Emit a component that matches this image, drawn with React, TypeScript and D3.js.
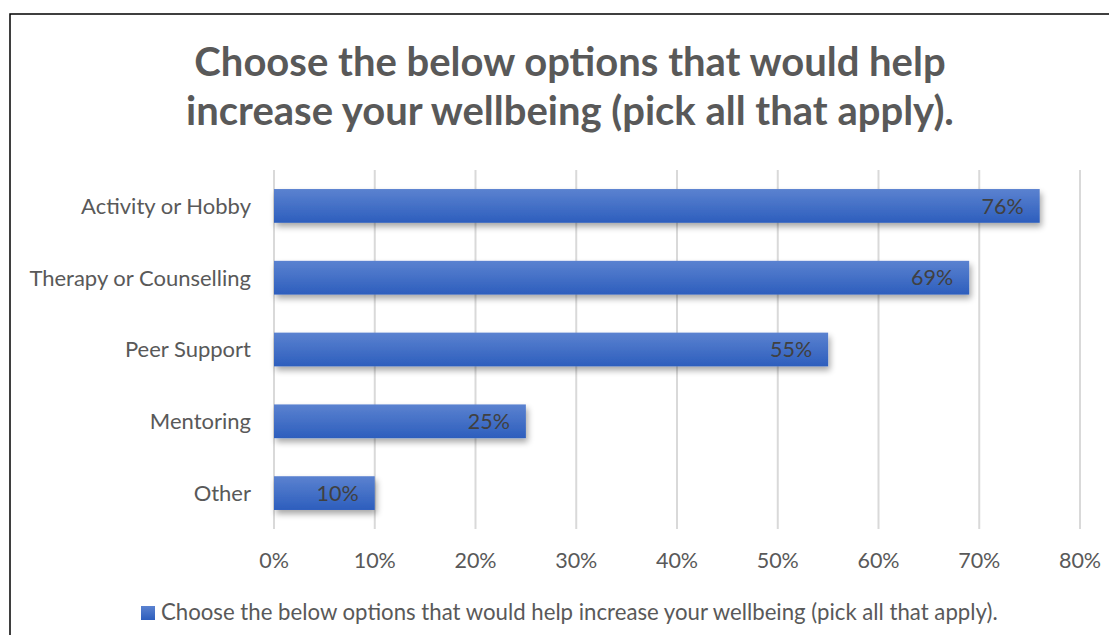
import React from "react";
import * as d3 from "d3";

const categories = ["Activity or Hobby", "Therapy or Counselling", "Peer Support", "Mentoring", "Other"];
const values = [76, 69, 55, 25, 10];
const ticks = [0, 10, 20, 30, 40, 50, 60, 70, 80];
const titleLines = ["Choose the below options that would help", "increase your wellbeing (pick all that apply)."];
const legendLabel = "Choose the below options that would help increase your wellbeing (pick all that apply).";

const W = 1117;
const H = 643;
const FONT = "Lato, 'Open Sans', sans-serif";

export default function App() {
  const x = d3.scaleLinear().domain([0, 80]).range([274, 1080]);
  const y = d3.scaleBand<string>().domain(categories).range([170, 529]).paddingInner(0.53).paddingOuter(0.265);
  const bh = y.bandwidth();
  return (
    <div style={{ margin: -8 }}>
      <svg width={W} height={H} style={{ display: "block", fontFamily: FONT }}>
        <defs>
          <linearGradient id="barGrad" x1="0" y1="0" x2="0" y2="1">
            <stop offset="0%" stopColor="#5b82d0" />
            <stop offset="100%" stopColor="#2d5ebd" />
          </linearGradient>
          <filter id="shadow" x="-5%" y="-30%" width="115%" height="190%">
            <feGaussianBlur in="SourceAlpha" stdDeviation="3" />
            <feOffset dx="2" dy="4" result="b" />
            <feComponentTransfer>
              <feFuncA type="linear" slope="0.35" />
            </feComponentTransfer>
            <feMerge>
              <feMergeNode />
              <feMergeNode in="SourceGraphic" />
            </feMerge>
          </filter>
        </defs>
        <rect x={0} y={0} width={W} height={H} fill="#fff" />
        <rect x={10} y={14} width={W + 20} height={H + 20} fill="#fff" stroke="#000" strokeWidth={1.5} />
        {titleLines.map((t, i) => (
          <text key={i} x={570} y={76 + i * 49} textAnchor="middle" fontSize={40} fontWeight={700} fill="#595959">
            {t}
          </text>
        ))}
        {ticks.map((t) => (
          <line key={t} x1={x(t)} x2={x(t)} y1={170} y2={529} stroke="#d9d9d9" strokeWidth={2} />
        ))}
        {categories.map((c, i) => (
          <g key={c}>
            <rect x={x(0)} y={y(c)!} width={x(values[i]) - x(0)} height={bh} fill="url(#barGrad)" filter="url(#shadow)" />
            <text x={x(values[i]) - 16} y={y(c)! + bh / 2} dy="0.36em" textAnchor="end" fontSize={21.5} fill="#404040">
              {values[i]}%
            </text>
            <text x={251} y={y(c)! + bh / 2} dy="0.36em" textAnchor="end" fontSize={22} fill="#595959">
              {c}
            </text>
          </g>
        ))}
        {ticks.map((t) => (
          <text key={t} x={x(t)} y={560} dy="0.36em" textAnchor="middle" fontSize={21.5} fill="#595959">
            {t}%
          </text>
        ))}
        <rect x={141} y={606} width={14} height={14} fill="url(#barGrad)" />
        <text x={161} y={612} dy="0.36em" fontSize={22.2} fill="#595959">
          {legendLabel}
        </text>
      </svg>
    </div>
  );
}
